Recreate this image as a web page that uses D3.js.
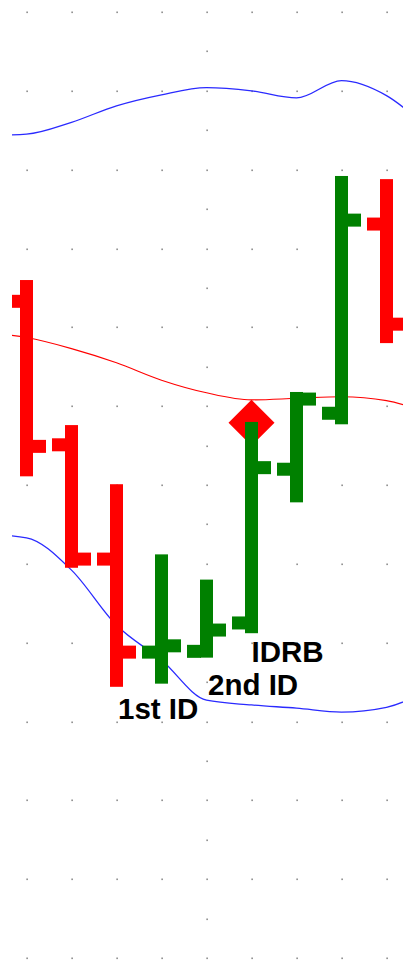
<!DOCTYPE html>
<html>
<head>
<meta charset="utf-8">
<script src="https://cdn.jsdelivr.net/npm/d3@7"></script>
<style>
  html, body { margin: 0; padding: 0; background: #fff; }
  svg { display: block; }
</style>
</head>
<body>
<script>
// ---- Data (price units) ----
const categories = ["D1","D2","D3","D4","D5","D6","D7","D8","D9"];
const opens  = [83.3, 65.1, 50.6, 38.8, 38.9, 42.5, 62.0, 69.1, 93.1];
const highs  = [86.0, 67.6, 60.1, 51.2, 48.0, 68.0, 71.8, 99.2, 98.8];
const lows   = [61.1, 49.5, 34.4, 34.8, 38.1, 41.2, 57.8, 67.7, 78.0];
const closes = [64.9, 50.6, 38.8, 39.6, 41.6, 62.2, 70.9, 93.6, 80.4];

// band values at index -1 .. 9
const bandIndex = [-1, 0, 1, 2, 3, 4, 5, 6, 7, 8, 9];
const upperBand = [104.3, 104.5, 106.0, 108.1, 109.5, 110.4, 110.0, 109.1, 111.3, 109.4, 104.8];
const middleBand = [79.4, 78.7, 77.3, 75.5, 73.3, 71.7, 70.8, 71.0, 71.2, 70.7, 69.0];
const lowerBand = [53.8, 53.3, 49.2, 42.2, 37.8, 32.7, 32.1, 31.7, 31.2, 31.8, 34.3];

const gridValues = [0,10,20,30,40,50,60,70,80,90,100,110,120];
const denseGridValues = [5,15,25,35,45,55,65,75,85,95,105,115];
const denseColumn = 4;

const signalIndex = 5;
const signalValue = 67.9;

const labels = [
  { text: "1st ID", index: 2, value: 30.3, dx: 1.5 },
  { text: "2nd ID", index: 4, value: 33.3, dx: 1.5 },
  { text: "IDRB",   index: 5, value: 37.5, dx: 0 }
];

// ---- Layout ----
const W = 403, H = 963;
const x = d3.scaleLinear().domain([0, 8]).range([26.5, 386.5]);
const y = d3.scaleLinear().domain([0, 120]).range([958, 12]);

const svg = d3.select("body").append("svg").attr("width", W).attr("height", H);

svg.append("defs").append("clipPath").attr("id", "plot")
  .append("rect").attr("x", 12).attr("y", 0).attr("width", W).attr("height", H);

// grid dots
const gdots = svg.append("g").attr("fill", "#666");
const gridPts = [];
d3.range(0, 9).forEach(i => gridValues.forEach(v => gridPts.push([i, v])));
denseGridValues.forEach(v => gridPts.push([denseColumn, v]));
gdots.selectAll("rect").data(gridPts).join("rect")
  .attr("x", d => Math.round(x(d[0])) - 0.5)
  .attr("y", d => Math.round(y(d[1])) - 0.5)
  .attr("width", 1.2).attr("height", 1.6);

const plot = svg.append("g").attr("clip-path", "url(#plot)");

const lineGen = arr => d3.line()
  .curve(d3.curveMonotoneX)
  .x((d, i) => x(bandIndex[i]))
  .y(d => y(d))(arr);

plot.append("path").attr("d", lineGen(upperBand))
  .attr("fill", "none").attr("stroke", "#2a2aff").attr("stroke-width", 1.3);
plot.append("path").attr("d", lineGen(lowerBand))
  .attr("fill", "none").attr("stroke", "#2a2aff").attr("stroke-width", 1.3);
plot.append("path").attr("d", lineGen(middleBand))
  .attr("fill", "none").attr("stroke", "#ff0000").attr("stroke-width", 1.1);

// signal diamond
plot.append("path")
  .attr("d", d3.symbol().type(d3.symbolDiamond2).size(1350)())
  .attr("transform", `translate(${x(signalIndex)},${y(signalValue)})`)
  .attr("fill", "#ff0000");

// OHLC bars
const barW = 13, tickLen = 13, tickH = 13;
const bars = plot.selectAll("g.bar").data(categories).join("g").attr("class", "bar")
  .attr("fill", (d, i) => closes[i] >= opens[i] ? "#008000" : "#ff0000");
bars.append("rect")
  .attr("x", (d, i) => x(i) - barW / 2)
  .attr("y", (d, i) => y(highs[i]))
  .attr("width", barW)
  .attr("height", (d, i) => y(lows[i]) - y(highs[i]));
bars.append("rect")
  .attr("x", (d, i) => x(i) - barW / 2 - tickLen)
  .attr("y", (d, i) => y(opens[i]) - tickH / 2)
  .attr("width", tickLen + 1).attr("height", tickH);
bars.append("rect")
  .attr("x", (d, i) => x(i) + barW / 2 - 1)
  .attr("y", (d, i) => y(closes[i]) - tickH / 2)
  .attr("width", tickLen + 1).attr("height", tickH);

// labels
svg.append("g").selectAll("text").data(labels).join("text")
  .attr("x", d => x(d.index) + d.dx)
  .attr("y", d => y(d.value))
  .attr("font-family", "'Liberation Sans', Arial, sans-serif")
  .attr("font-weight", "bold")
  .attr("font-size", 29.5)
  .attr("fill", "#000")
  .text(d => d.text);
</script>
</body>
</html>
